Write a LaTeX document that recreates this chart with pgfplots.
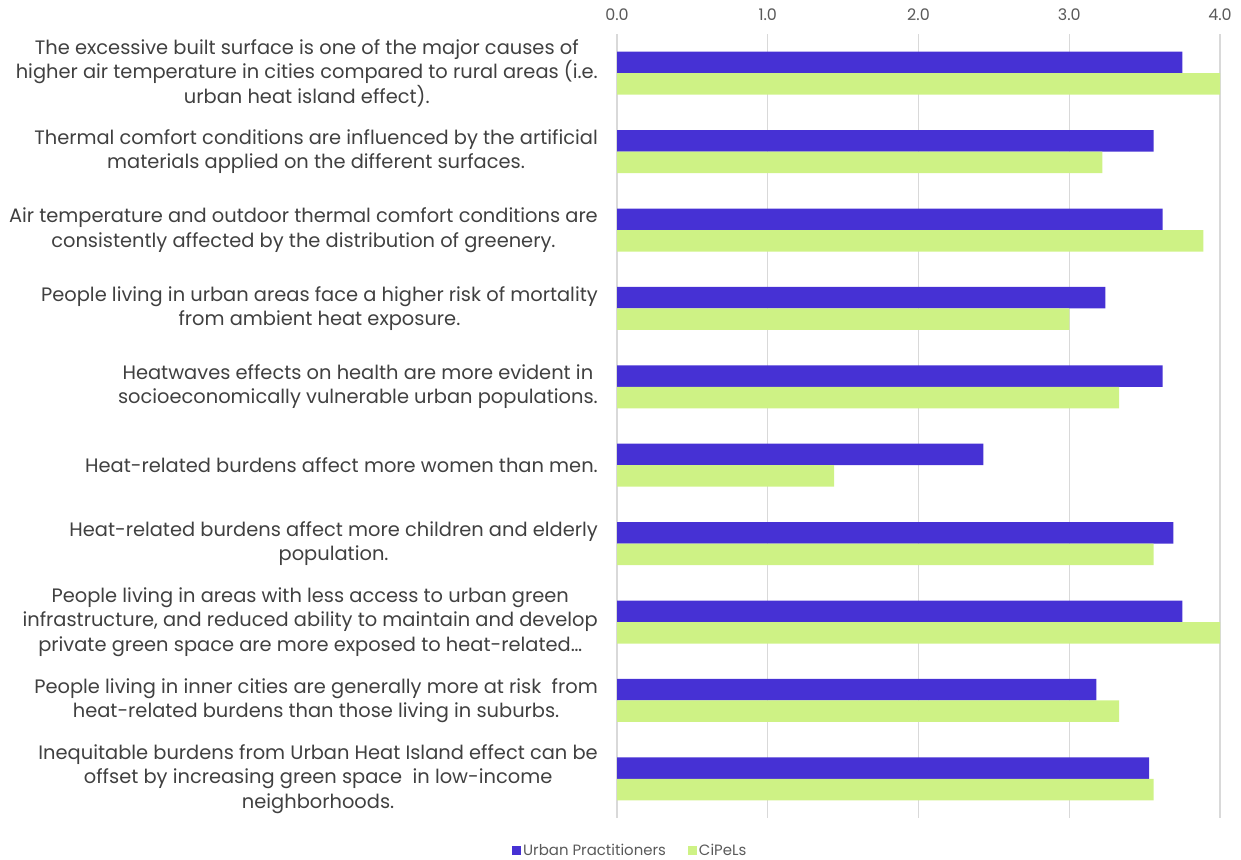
\documentclass[border=0pt]{standalone}
\usepackage{pgfplots}
\pgfplotsset{compat=1.18}
\usepackage{pgfplotstable}
\usepackage{fontspec}
\setmainfont{Poppins}
\definecolor{ublue}{HTML}{4631D4}
\definecolor{cgreen}{HTML}{CEF285}
\definecolor{gridc}{HTML}{D9D9D9}
\definecolor{labc}{HTML}{404040}
\definecolor{tickc}{HTML}{595959}
\pgfplotstableread{
y u c
0 3.75 4.00
1 3.56 3.22
2 3.62 3.89
3 3.24 3.00
4 3.62 3.33
5 2.43 1.44
6 3.69 3.56
7 3.75 4.00
8 3.18 3.33
9 3.53 3.56
}\data
\begin{document}
\begin{tikzpicture}
\useasboundingbox (0,0) rectangle (1241bp,-860bp);
\begin{axis}[
  at={(617bp,-818bp)}, anchor=south west,
  scale only axis, width=603bp, height=784bp,
  xbar, bar width=21.5bp,
  xmin=0, xmax=4, ymin=-0.5, ymax=9.5,
  y dir=reverse,
  axis line style={draw=none},
  xtick={0,1,2,3,4},
  xticklabel pos=upper,
  xmajorgrids, grid style={gridc, line width=1.2bp},
  major tick length=0pt,
  xticklabel style={font=\fontsize{16}{18}\selectfont, text=tickc, inner sep=0pt, yshift=13bp},
  /pgf/number format/.cd, fixed, fixed zerofill, precision=1, assume math mode=true,
  /pgfplots/.cd,
  ytick={0,...,9},
  yticklabel style={font=\fontsize{19.5}{24.5}\selectfont, text=labc, align=center, inner sep=0pt, xshift=-19bp},
  yticklabels={
    {The excessive built surface is one of the major causes of\\higher air temperature in cities compared to rural areas (i.e.\\urban heat island effect).},
    {Thermal comfort conditions are influenced by the artificial\\materials applied on the different surfaces.},
    {Air temperature and outdoor thermal comfort conditions are\\consistently affected by the distribution of greenery.},
    {People living in urban areas face a higher risk of mortality\\from ambient heat exposure.},
    {Heatwaves effects on health are more evident in\\socioeconomically vulnerable urban populations.},
    {Heat-related burdens affect more women than men.},
    {Heat-related burdens affect more children and elderly\\population.},
    {People living in areas with less access to urban green\\infrastructure, and reduced ability to maintain and develop\\private green space are more exposed to heat-related…},
    {People living in inner cities are generally more at risk\ \ from\\heat-related burdens than those living in suburbs.},
    {Inequitable burdens from Urban Heat Island effect can be\\offset by increasing green space\ \ in low-income\\neighborhoods.}
  },
  legend style={at={(0.022,-0.042)}, anchor=center, draw=none, fill=none,
    font=\fontsize{15}{17}\selectfont, text=tickc, legend columns=2,
    nodes={inner sep=2bp},
    /tikz/every even column/.append style={column sep=20bp}},
  legend image code/.code={\fill[#1] (0bp,-4.5bp) rectangle (9bp,4.5bp);},
]
\addplot[fill=ublue, draw=none, bar shift=10.75bp] table[x=u, y=y]{\data};
\addplot[fill=cgreen, draw=none, bar shift=-10.75bp] table[x=c, y=y]{\data};
\legend{Urban Practitioners, CiPeLs}
\end{axis}
\end{tikzpicture}
\end{document}
